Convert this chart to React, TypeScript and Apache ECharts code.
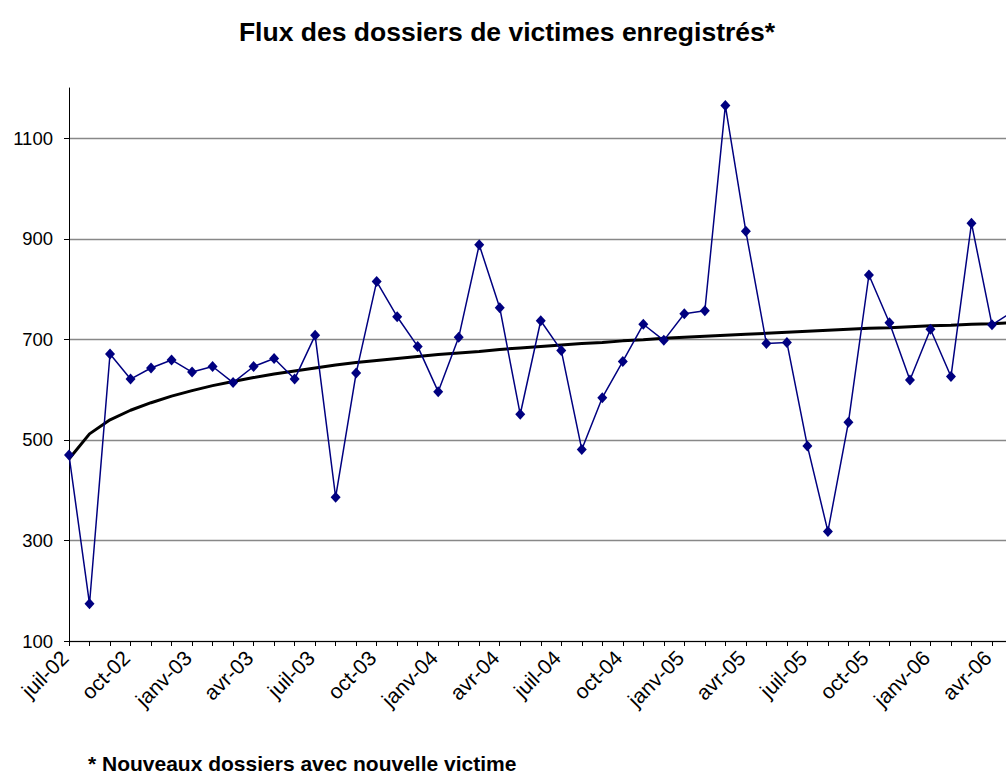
import React, { useEffect, useRef } from "react";
import * as echarts from "echarts";

const months = ["janv", "févr", "mars", "avr", "mai", "juin", "juil", "août", "sept", "oct", "nov", "déc"];
const categories: string[] = [];
for (let i = 0; i < 47; i++) {
  const m = (6 + i) % 12;
  const y = 2 + Math.floor((6 + i) / 12);
  categories.push(months[m] + "-0" + y);
}

const dossiers = [
  470, 174, 671, 621, 643, 659, 635, 646, 614, 646,
  662, 621, 708, 386, 633, 815, 745, 686, 596, 704,
  888, 763, 551, 737, 678, 481, 584, 656, 730, 698,
  751, 757, 1165, 915, 692, 694, 488, 318, 535, 828,
  733, 619, 720, 626, 931, 729, 755,
];

const tendance = [
  462, 512, 540, 559, 574, 587, 598, 608, 616, 624,
  631, 637, 643, 649, 654, 658, 662, 666, 670, 673,
  676, 680, 683, 686, 689, 692, 694, 697, 699, 702,
  704, 706, 708, 710, 712, 714, 716, 718, 720, 722,
  723, 725, 727, 728, 730, 731, 733,
];

const yTicks = [100, 300, 500, 700, 900, 1100];

const FONT = "'Liberation Sans', Arial, sans-serif";

export default function App() {
  const ref = useRef<HTMLDivElement>(null);
  useEffect(() => {
    if (!ref.current) return;
    const chart = echarts.init(ref.current, null, { renderer: "svg" });
    chart.setOption({
      animation: false,
      backgroundColor: "#ffffff",
      textStyle: { fontFamily: FONT },
      graphic: [
        {
          type: "text",
          x: 507,
          y: 32,
          style: {
            text: "Flux des dossiers de victimes enregistrés*",
            font: `bold 26.5px ${FONT}`,
            fill: "#000",
            textAlign: "center",
            textVerticalAlign: "middle",
          },
        },
        {
          type: "text",
          x: 88,
          y: 763,
          style: {
            text: "* Nouveaux dossiers avec nouvelle victime",
            font: `bold 21px ${FONT}`,
            fill: "#000",
            textAlign: "left",
            textVerticalAlign: "middle",
          },
        },
      ],
      grid: {
        left: 69,
        top: 88,
        width: 943.5,
        height: 553,
        containLabel: false,
        outerBoundsMode: "none",
      },
      xAxis: {
        type: "category",
        data: categories,
        boundaryGap: false,
        axisLine: { show: true, lineStyle: { color: "#000", width: 1 } },
        axisTick: { show: true, interval: 0, length: 5, lineStyle: { color: "#000" } },
        axisLabel: {
          interval: 2,
          rotate: 45,
          fontSize: 21,
          color: "#000",
          fontFamily: FONT,
          margin: 9,
          padding: [0, 6, 0, 0],
        },
        splitLine: { show: false },
      },
      yAxis: {
        type: "value",
        min: 100,
        max: 1200,
        interval: 200,
        axisLine: { show: true, lineStyle: { color: "#000", width: 1 } },
        axisTick: { show: true, length: 5, customValues: yTicks, lineStyle: { color: "#000" } },
        axisLabel: {
          fontSize: 18.5,
          color: "#000",
          fontFamily: FONT,
          margin: 16,
          customValues: yTicks,
          formatter: (v: number) => (v >= 1200 ? "" : String(v)),
        },
        splitLine: {
          show: true,
          lineStyle: {
            color: ["#888", "#888", "#888", "#888", "#888", "#888", "rgba(0,0,0,0)"],
            width: 1.3,
          },
        },
      },
      series: [
        {
          name: "Dossiers",
          type: "line",
          data: dossiers,
          symbol: "diamond",
          symbolSize: [10, 11],
          lineStyle: { color: "#000080", width: 1.5 },
          itemStyle: { color: "#000080" },
          z: 3,
        },
        {
          name: "Tendance",
          type: "line",
          data: tendance,
          symbol: "none",
          lineStyle: { color: "#000", width: 3 },
          z: 2,
        },
      ],
    });
    return () => chart.dispose();
  }, []);
  return (
    <div style={{ position: "absolute", left: 0, top: 0, width: 1006, height: 773, overflow: "hidden", background: "#fff" }}>
      <div ref={ref} style={{ width: 1040, height: 773 }} />
    </div>
  );
}
